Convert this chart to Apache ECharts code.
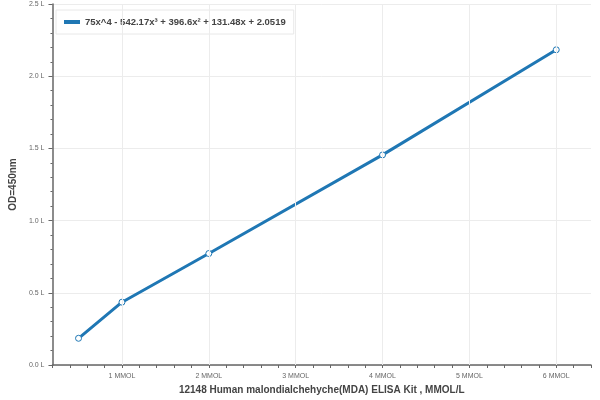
<!DOCTYPE html>
<html>
<head>
<meta charset="utf-8">
<script src="https://cdn.jsdelivr.net/npm/echarts@6/dist/echarts.min.js"></script>
</head>
<body style="margin:0">
<div id="main" style="width:600px;height:400px"></div>
<script>
// standard curve points
var concentrations = [0.5, 1, 2, 4, 6];
var odValues = [0.185, 0.435, 0.772, 1.455, 2.183];
var legendName = "75x^4 - 542.17x³ + 396.6x² + 131.48x + 2.0519";
var gridXs = [1, 2, 3, 4, 5, 6];

var mychart = echarts.init(document.getElementById("main"));
var option = {
  animation: false,
  grid: { left: 46, right: 9, top: 4, bottom: 31 },
  legend: {
    left: 56,
    top: 10,
    padding: [7, 8],
    backgroundColor: "#fff",
    borderColor: "#e8e8e8",
    borderWidth: 1,
    itemWidth: 16,
    itemHeight: 4,
    icon: "rect",
    itemStyle: { color: "#1f77b4", borderWidth: 0 },
    textStyle: { fontFamily: "Liberation Sans", fontWeight: "bold", fontSize: 9.5, color: "#444" },
    data: [legendName],
  },
  xAxis: {
    type: "value",
    min: 0.2,
    max: 6.4,
    interval: 0.2,
    name: "12148 Human malondialchehyche(MDA) ELISA Kit , MMOL/L",
    nameLocation: "middle",
    nameGap: 20,
    nameTextStyle: { fontFamily: "Liberation Sans", fontWeight: "bold", fontSize: 10, color: "#444" },
    axisLine: { lineStyle: { color: "#666", width: 1.5 } },
    axisTick: { lineStyle: { color: "#666" }, length: 3 },
    splitLine: { show: false },
    axisLabel: {
      fontSize: 7,
      color: "#666",
      formatter: function (v) {
        var r = Math.round(v);
        return Math.abs(v - r) < 1e-6 ? r + " MMOL" : "";
      },
    },
  },
  yAxis: {
    type: "value",
    min: 0,
    max: 2.5,
    interval: 0.5,
    name: "OD=450nm",
    nameLocation: "middle",
    nameGap: 30,
    nameTextStyle: { fontFamily: "Liberation Sans", fontWeight: "bold", fontSize: 10, color: "#444" },
    axisLine: { show: true, lineStyle: { color: "#666", width: 1.5 } },
    axisTick: { show: true, length: 4, lineStyle: { color: "#666" } },
    minorTick: { show: true, splitNumber: 5, length: 2, lineStyle: { color: "#666" } },
    splitLine: { lineStyle: { color: "#ececec" } },
    axisLabel: {
      fontSize: 7,
      color: "#666",
      formatter: function (v) { return v.toFixed(1) + " L"; },
    },
  },
  series: [
    {
      // vertical grid lines at integer concentrations
      type: "line",
      data: [],
      z: 1,
      markLine: {
        silent: true,
        symbol: "none",
        label: { show: false },
        lineStyle: { color: "#ececec", type: "solid", width: 1 },
        data: gridXs.map(function (x) { return { xAxis: x }; }),
      },
    },
    {
      name: legendName,
      type: "line",
      data: concentrations.map(function (c, i) { return [c, odValues[i]]; }),
      symbol: "circle",
      symbolSize: 6,
      itemStyle: { color: "#fff", borderColor: "#1f77b4", borderWidth: 1 },
      lineStyle: { color: "#1f77b4", width: 3 },
      color: "#1f77b4",
      z: 3,
    },
  ],
};
mychart.setOption(option);
</script>
</body>
</html>
